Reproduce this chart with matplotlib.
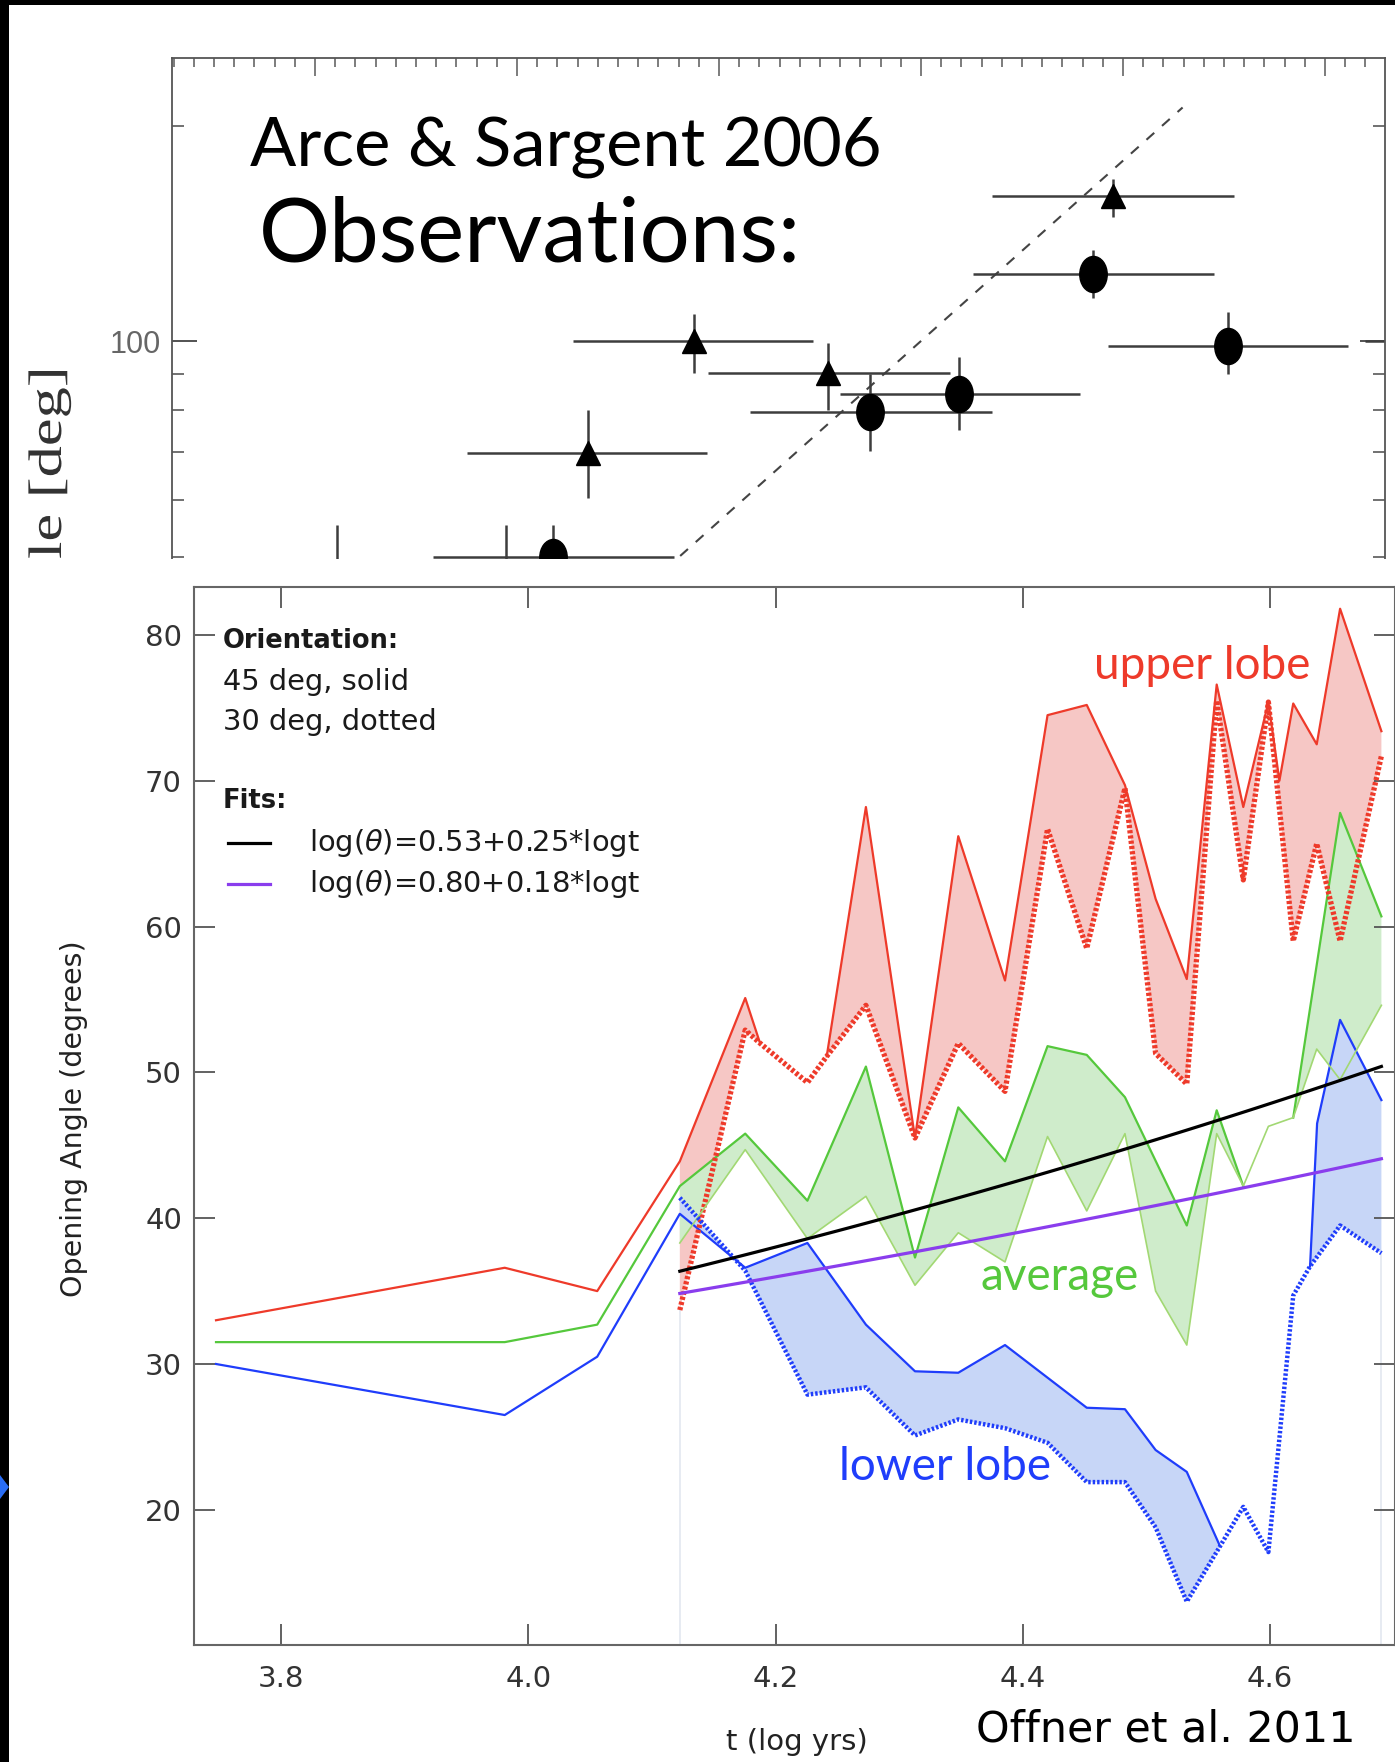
import numpy as np
import matplotlib
matplotlib.use("Agg")
import matplotlib.pyplot as plt
from matplotlib.patches import Rectangle, Polygon, PathPatch
from matplotlib.path import Path
from matplotlib.textpath import TextPath
from matplotlib.font_manager import FontProperties
from matplotlib.transforms import Affine2D
from matplotlib.ticker import MultipleLocator, FixedLocator, NullFormatter

W, H, DPI = 1395, 1762, 100

# ---- observed outflow opening angles (x in panel tick units, y in deg)
tri_x = [1.353, 1.874, 2.542, 3.95]
tri_y = [69.8, 100.0, 90.1, 159.5]
tri_xlo = [0.75, 1.277, 1.946, 3.351]
tri_xhi = [1.94, 2.465, 3.144, 4.55]
tri_ylo = [60.4, 90.2, 80.0, 149.0]
tri_yhi = [80.0, 109.0, 99.5, 168.7]

circ_x = [1.178, 2.748, 3.188, 3.85, 4.52]
circ_y = [50.0, 79.6, 84.4, 124.0, 98.5]
circ_xlo = [0.584, 2.152, 2.6, 3.257, 3.928]
circ_xhi = [1.777, 3.351, 3.787, 4.452, 5.114]
circ_ylo = [45.0, 70.3, 75.0, 115.0, 90.0]
circ_yhi = [55.4, 90.0, 95.0, 134.0, 109.8]

# sources whose markers sit outside the window, only their bars show
off_x = [0.11, 0.946, 5.75]
off_y = [44.0, 46.0, 100.0]
off_xlo = [0.11, 0.946, 5.198]
off_xhi = [0.11, 0.946, 6.3]
off_ylo = [40.0, 40.0, 100.0]
off_yhi = [55.4, 55.4, 100.0]

obs_fit_x = [1.5, 4.295]
obs_fit_y = [41.9, 212.0]

# ---- simulated opening angles, t = log(yrs)
t_upper_45 = [3.7475, 3.981, 4.0558, 4.1226, 4.1755, 4.1875, 4.2258, 4.2414, 4.2731,
              4.3128, 4.3478, 4.3856, 4.4200, 4.4517, 4.4826, 4.5074, 4.5326, 4.5568,
              4.5783, 4.5986, 4.6075, 4.6187, 4.6377, 4.6566, 4.6900]
upper_45 = [33.0, 36.6, 35.0, 43.9, 55.1, 52.0, 49.3, 51.1, 68.2, 45.5, 66.2, 56.3,
            74.5, 75.2, 69.7, 61.9, 56.4, 76.6, 68.2, 75.4, 70.0, 75.3, 72.5, 81.8, 73.4]
t_upper_30 = [4.1226, 4.1755, 4.1875, 4.2258, 4.2414, 4.2731, 4.3128, 4.3478, 4.3856,
              4.4200, 4.4517, 4.4826, 4.5074, 4.5326, 4.5568, 4.5783, 4.5986, 4.6187,
              4.6377, 4.6566, 4.6900]
upper_30 = [33.7, 52.9, 52.0, 49.3, 51.1, 54.6, 45.5, 52.0, 48.7, 66.7, 58.5, 69.5,
            51.3, 49.2, 75.5, 63.2, 75.4, 59.0, 65.7, 59.0, 71.7]

t_avg_45 = [3.7475, 3.981, 4.0558, 4.1226, 4.1755, 4.2258, 4.2731, 4.3128, 4.3478,
            4.3856, 4.4200, 4.4517, 4.4826, 4.5326, 4.5568, 4.5783, 4.5986, 4.6187,
            4.6566, 4.6900]
avg_45 = [31.5, 31.5, 32.7, 42.2, 45.8, 41.2, 50.4, 37.3, 47.6, 43.9, 51.8, 51.2,
          48.3, 39.5, 47.4, 42.2, 46.3, 46.9, 67.8, 60.7]
t_avg_30 = [4.1226, 4.1755, 4.2258, 4.2731, 4.3128, 4.3478, 4.3856, 4.4200, 4.4517,
            4.4826, 4.5074, 4.5326, 4.5568, 4.5783, 4.5986, 4.6187, 4.6377, 4.6566, 4.6900]
avg_30 = [38.3, 44.7, 38.6, 41.5, 35.4, 39.0, 37.0, 45.6, 40.5, 45.8, 35.0, 31.3,
          45.8, 42.2, 46.3, 46.9, 51.6, 49.5, 54.6]

t_lower_45 = [3.7475, 3.981, 4.0558, 4.1226, 4.1755, 4.2258, 4.2731, 4.3128, 4.3478,
              4.3856, 4.4517, 4.4826, 4.5074, 4.5326, 4.5595, 4.5783, 4.5986, 4.6187,
              4.6323, 4.6380, 4.6566, 4.6900]
lower_45 = [30.0, 26.5, 30.5, 40.3, 36.6, 38.3, 32.7, 29.5, 29.4, 31.3, 27.0, 26.9,
            24.1, 22.6, 17.5, 20.2, 17.1, 34.7, 36.7, 46.5, 53.6, 48.1]
t_lower_30 = [4.1226, 4.1755, 4.2258, 4.2731, 4.3128, 4.3478, 4.3856, 4.4200, 4.4517,
              4.4826, 4.5074, 4.5326, 4.5595, 4.5783, 4.5986, 4.6187, 4.6323, 4.6566, 4.6900]
lower_30 = [41.4, 36.4, 27.9, 28.4, 25.1, 26.2, 25.6, 24.6, 21.9, 21.9, 18.8, 13.7,
            17.5, 20.2, 17.1, 34.7, 36.7, 39.5, 37.6]

# power-law fits: log(theta) = a + b * logt
fit_black = (0.53, 0.25)
fit_purple = (0.80, 0.18)
fit_range = (4.1226, 4.69)

RED, RED_FILL = "#ee3a2a", "#f6c7c5"
GREEN, GREEN_LIGHT, GREEN_FILL = "#55c83c", "#a2d873", "#cfeccb"
BLUE, BLUE_FILL = "#1f3dfb", "#c7d6f7"
PURPLE = "#8a3ded"


def rect(l, t, r, b):
    return [l / W, 1 - b / H, (r - l) / W, (b - t) / H]


def solid_for_plot(ts, ys, td, yd):
    # hide runs where the solid curve sits exactly on the dotted one
    ref = dict(zip(td, yd))
    same = [ref.get(t) == y for t, y in zip(ts, ys)]
    out = np.array(ys, float)
    for i in range(1, len(ys) - 1):
        if same[i - 1] and same[i] and same[i + 1]:
            out[i] = np.nan
    return out


def band(ts, ys, td, yd):
    ts, ys = np.asarray(ts), np.asarray(ys)
    keep = ts >= td[0]
    xs = np.r_[ts[keep], np.asarray(td)[::-1]]
    yy = np.r_[ys[keep], np.asarray(yd)[::-1]]
    return np.column_stack([xs, yy])


fig = plt.figure(figsize=(W / DPI, H / DPI), dpi=DPI)
fig.patch.set_facecolor("white")

# ================= observations panel =================
ax_obs = fig.add_axes(rect(172, 58, 1385, 559))
ax_obs.set_yscale("log")
ax_obs.set_xlim(-0.708, 5.297)
ax_obs.set_ylim(49.6, 248.6)
ax_obs.spines["bottom"].set_visible(False)
for s in ("left", "top", "right"):
    ax_obs.spines[s].set_color("#555")
    ax_obs.spines[s].set_linewidth(1.3)

ax_obs.set_yticks([100], labels=["100"])
ax_obs.yaxis.set_minor_locator(FixedLocator([50, 60, 70, 80, 90, 200]))
ax_obs.yaxis.set_minor_formatter(NullFormatter())
ax_obs.tick_params(axis="y", which="major", direction="in", length=18, width=1.3,
                   color="#444", left=True, right=True, labelsize=22,
                   labelcolor="#666", pad=8)
ax_obs.tick_params(axis="y", which="minor", direction="in", length=8.5, width=1.3,
                   color="#666", left=True, right=True)
ax_obs.xaxis.set_major_locator(MultipleLocator(1))
ax_obs.xaxis.set_minor_locator(MultipleLocator(0.1))
ax_obs.tick_params(axis="x", which="both", direction="in", bottom=False, top=True,
                   labelbottom=False, color="#666", width=1.2)
ax_obs.tick_params(axis="x", which="major", length=13)
ax_obs.tick_params(axis="x", which="minor", length=6.5)
ax_obs.yaxis.set_tick_params(which="both", labelfontfamily="Liberation Sans")

ellipse = Path.unit_circle().transformed(Affine2D().scale(0.76, 1.0))

for xs, ys, xlo, xhi, ylo, yhi, mk, ms in [
        (tri_x, tri_y, tri_xlo, tri_xhi, tri_ylo, tri_yhi, "^", 17),
        (circ_x, circ_y, circ_xlo, circ_xhi, circ_ylo, circ_yhi, ellipse, 26),
        (off_x, off_y, off_xlo, off_xhi, off_ylo, off_yhi, "", 0)]:
    xs, ys = np.array(xs), np.array(ys)
    ax_obs.errorbar(xs, ys,
                    xerr=[xs - np.array(xlo), np.array(xhi) - xs],
                    yerr=[ys - np.array(ylo), np.array(yhi) - ys],
                    fmt="none", ecolor="#3d3d3d", elinewidth=1.8, capsize=0,
                    zorder=2)
    if ms:
        ax_obs.plot(xs, ys, ls="none", marker=mk, ms=ms, color="black",
                    zorder=3)

ax_obs.plot(obs_fit_x, obs_fit_y, ls=(0, (5, 5)), color="#444", lw=1.5, zorder=1)

# stretched axis title of the observations panel (mostly hidden below)
fp = FontProperties(family="Liberation Serif")
tp = TextPath((0, 0), "Opening Angle [deg]", size=47, prop=fp)
stretch = 1.33
length = tp.get_extents().x1 * stretch
tr = Affine2D().scale(stretch, 1.0).rotate_deg(90).translate(61, (H - 371) - length)
fig.add_artist(PathPatch(tp, transform=tr, facecolor="#333", edgecolor="none",
                         zorder=0.5))

fig.text(250 / W, 1 - 148 / H, "Arce & Sargent 2006", family="Lato", fontsize=49.3,
         ha="left", va="center", color="black")
fig.text(258.5 / W, 1 - 236 / H, "Observations:", family="Lato", fontsize=64,
         ha="left", va="center", color="black")

# white sheet the simulation panel sits on
fig.add_artist(Rectangle((9, 0), W - 9, H - 559, transform=None,
                         facecolor="white", edgecolor="none", zorder=1))

# ================= simulation panel =================
ax = fig.add_axes(rect(194.5, 587, 1395, 1644.6))
ax.set_zorder(2)
ax.set_xlim(3.7301, 4.701)
ax.set_ylim(10.755, 83.29)

lobes = [
    (t_upper_45, upper_45, t_upper_30, upper_30, RED, RED_FILL, RED, 3.8, (0, (0.6, 0.4))),
    (t_avg_45, avg_45, t_avg_30, avg_30, GREEN, GREEN_FILL, GREEN_LIGHT, 1.2, "-"),
    (t_lower_45, lower_45, t_lower_30, lower_30, BLUE, BLUE_FILL, BLUE, 3.2, (0, (0.55, 0.45))),
]

for ts, ys, td, yd, col, fcol, dcol, dlw, dls in lobes:
    ax.add_patch(Polygon(band(ts, ys, td, yd), closed=True, facecolor=fcol,
                         edgecolor="none", zorder=1))
for ts, ys, td, yd, col, fcol, dcol, dlw, dls in lobes:
    ax.plot(ts, solid_for_plot(ts, ys, td, yd), color=col, lw=1.6, zorder=2)
    ax.plot(td, yd, color=dcol, lw=dlw, ls=dls, zorder=3)

# faint edges of the shaded bands
y_lo = ax.get_ylim()[0]
first = min(l[3][0] for l in lobes)
last = min(l[3][-1] for l in lobes)
ax.vlines([t_lower_30[0], t_lower_30[-1]], y_lo, [first, last], color="#e3e7f0",
          lw=1.2, zorder=0.5)

tt = np.linspace(*fit_range, 60)
for (a, b), col in [(fit_black, "black"), (fit_purple, PURPLE)]:
    ax.plot(tt, 10 ** (a + b * tt), color=col, lw=2.3, zorder=4)

ax.set_xticks([3.8, 4.0, 4.2, 4.4, 4.6])
ax.set_yticks([20, 30, 40, 50, 60, 70, 80])
ax.tick_params(axis="both", direction="in", length=15, width=1.3, color="#555",
               labelsize=21, labelcolor="#333", top=True, right=True)
ax.tick_params(axis="x", pad=14.5)
ax.tick_params(axis="y", pad=9)
for s in ax.spines.values():
    s.set_color("#666")
    s.set_linewidth(1.5)

ax.text(-0.1004, 0.4975, "Opening Angle (degrees)", transform=ax.transAxes,
        rotation=90, ha="center", va="center", fontsize=20.5, color="#222")
ax.text(0.502, -0.0921, "t (log yrs)", transform=ax.transAxes, ha="center",
        va="center", fontsize=21, color="#222", clip_on=False)

# key
kx = 3.7529
ax.text(kx, 79.6, "Orientation:", fontsize=18.5, fontweight="bold", va="center",
        color="#1a1a1a")
ax.text(kx, 76.8, "45 deg, solid", fontsize=20.8, va="center", color="#1a1a1a")
ax.text(kx, 74.05, "30 deg, dotted", fontsize=20.8, va="center", color="#1a1a1a")
ax.text(kx, 68.6, "Fits:", fontsize=18.5, fontweight="bold", va="center",
        color="#1a1a1a")
for (a, b), col, yk in [(fit_black, "black", 65.7), (fit_purple, PURPLE, 62.95)]:
    ax.plot([3.7572, 3.7910], [yk, yk], color=col, lw=2.3)
    ax.text(3.8228, yk, r"log($\theta$)=%.2f+%.2f*logt" % (a, b), fontsize=20.8,
            va="center", color="#1a1a1a")

ax.text(4.5447, 77.9, "upper lobe", family="Lato", fontsize=33, color=RED,
        ha="center", va="center", zorder=5)
ax.text(4.4301, 35.97, "average", family="Lato", fontsize=33, color=GREEN,
        ha="center", va="center", zorder=5)
ax.text(4.3374, 22.94, "lower lobe", family="Lato", fontsize=33, color=BLUE,
        ha="center", va="center", zorder=5)

fig.text(1166 / W, 1 - 1729 / H, "Offner et al. 2011", fontsize=30.8, ha="center",
         va="center", color="black", zorder=5)

# slide frame remnants
fig.add_artist(Rectangle((0, 0), 9, H, transform=None, facecolor="black",
                         edgecolor="none", zorder=10))
fig.add_artist(Rectangle((0, H - 5), W, 5, transform=None, facecolor="black",
                         edgecolor="none", zorder=10))
fig.add_artist(Polygon([(0, H - 1475), (9, H - 1487), (0, H - 1499)], closed=True,
                       transform=None, facecolor="#2a6df4", edgecolor="none",
                       zorder=11))

fig.savefig("out.png", dpi=DPI)
